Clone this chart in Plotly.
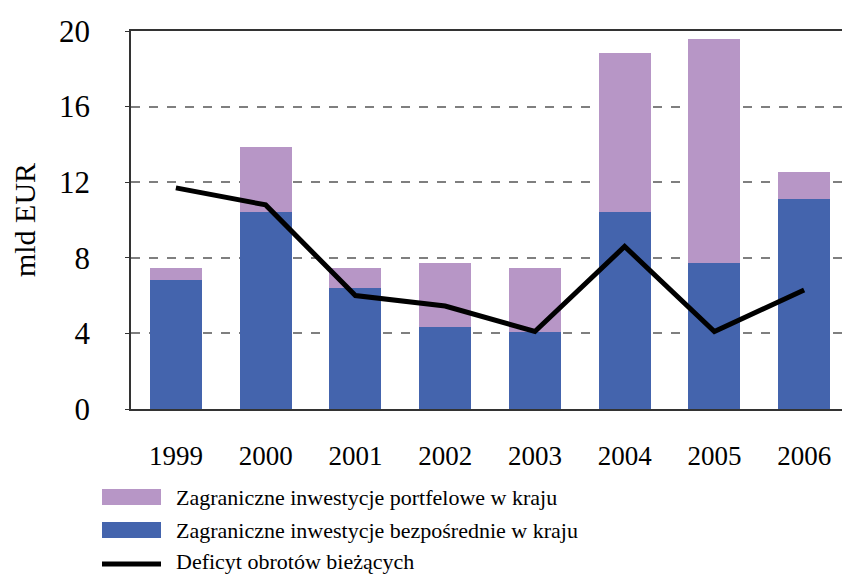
import plotly.graph_objects as go

# ---------------------------------------------------------------------------
# Data (mld EUR)
# ---------------------------------------------------------------------------

YEARS = ["1999", "2000", "2001", "2002", "2003", "2004", "2005", "2006"]
FDI = [6.8, 10.4, 6.4, 4.35, 4.1, 10.4, 7.75, 11.1]          # bezpośrednie
PORTFOLIO = [0.65, 3.45, 1.05, 3.4, 3.35, 8.45, 11.85, 1.45]  # portfelowe
DEFICIT = [11.7, 10.8, 6.0, 5.45, 4.1, 8.6, 4.1, 6.3]

NAMES = [
    "Zagraniczne inwestycje portfelowe w kraju",
    "Zagraniczne inwestycje bezpośrednie w kraju",
    "Deficyt obrotów bieżących",
]

COLORS = {
    "fdi": "#4464AD",
    "portfolio": "#B796C6",
    "line": "#000000",
    "grid": "#7F7F7F",
    "text": "#000000",
}
FONT = "Liberation Serif, Times New Roman, serif"

# the page body has an 8px margin, so the figure is a bit smaller than the window
OFF = 8
W, H = 850 - OFF, 577 - OFF
M = dict(l=131 - OFF, r=1, t=31 - OFF, b=168)
PW = W - M["l"] - M["r"]
PH = H - M["t"] - M["b"]


def px_to_paper(x, y):
    """Window pixel position -> paper coords (for the hand-drawn legend)."""
    return (x - OFF - M["l"]) / PW, (H - M["b"] - (y - OFF)) / PH


fig = go.Figure()

fig.add_trace(go.Bar(
    x=YEARS, y=FDI, name=NAMES[1],
    marker=dict(color=COLORS["fdi"], line=dict(width=0)),
    showlegend=False,
))
fig.add_trace(go.Bar(
    x=YEARS, y=PORTFOLIO, name=NAMES[0],
    marker=dict(color=COLORS["portfolio"], line=dict(width=0)),
    showlegend=False,
))
fig.add_trace(go.Scatter(
    x=YEARS, y=DEFICIT, name=NAMES[2], mode="lines",
    line=dict(color=COLORS["line"], width=5),
    showlegend=False,
))

# ---------------------------------------------------------------------------
# Legend below the chart: wide swatches like the original
# ---------------------------------------------------------------------------

shapes = []
annotations = []
rows = [(497, "rect", COLORS["portfolio"], NAMES[0]),
        (530, "rect", COLORS["fdi"], NAMES[1]),
        (561, "line", COLORS["line"], NAMES[2])]
for yc, kind, col, label in rows:
    x0, y0 = px_to_paper(102, yc - 8)
    x1, y1 = px_to_paper(161, yc + 8)
    if kind == "rect":
        shapes.append(dict(type="rect", xref="paper", yref="paper",
                           x0=x0, x1=x1, y0=y1, y1=y0,
                           fillcolor=col, line=dict(width=0)))
    else:
        _, ym = px_to_paper(0, yc + 3)
        shapes.append(dict(type="line", xref="paper", yref="paper",
                           x0=x0, x1=x1, y0=ym, y1=ym,
                           line=dict(color=col, width=5)))
    tx, ty = px_to_paper(174, yc)
    annotations.append(dict(
        x=tx, y=ty, xref="paper", yref="paper", text=label,
        showarrow=False, xanchor="left", yanchor="middle",
        font=dict(family=FONT, size=22, color=COLORS["text"]),
    ))

fig.update_layout(
    width=W, height=H,
    margin=M,
    barmode="stack",
    bargap=0.42,
    paper_bgcolor="white",
    plot_bgcolor="white",
    font=dict(family=FONT, color=COLORS["text"]),
    showlegend=False,
    xaxis=dict(
        type="category",
        range=[-0.5, 7.5],
        automargin=False,
        showgrid=False,
        showline=True, linecolor="#333333", linewidth=2,
        mirror=True,
        ticks="",
        tickfont=dict(family=FONT, size=27),
        ticklabelstandoff=22,
    ),
    yaxis=dict(
        range=[0, 20],
        dtick=4,
        automargin=False,
        showgrid=True,
        gridcolor=COLORS["grid"], gridwidth=1.5, griddash="dash",
        zeroline=False,
        showline=True, linecolor="#333333", linewidth=1.5,
        mirror=True,
        ticks="outside", ticklen=4, tickcolor="#333333", tickwidth=1,
        tickfont=dict(family=FONT, size=31),
        ticklabelstandoff=29,
        title=dict(text="mld EUR", font=dict(family=FONT, size=30), standoff=16),
    ),
    shapes=shapes,
    annotations=annotations,
)

fig.write_html("out.html")
